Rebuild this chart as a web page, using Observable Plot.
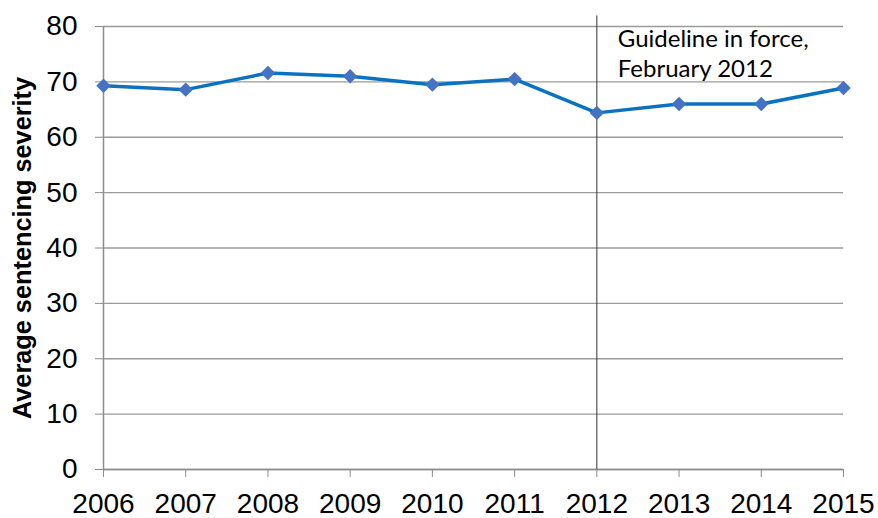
<!DOCTYPE html>
<html>
<head>
<meta charset="utf-8">
<script src="https://cdn.jsdelivr.net/npm/d3@7"></script>
<script src="https://cdn.jsdelivr.net/npm/@observablehq/plot@0.6"></script>
<style>
  html, body { margin: 0; padding: 0; background: #fff; }
  #chart svg { display: block; }
</style>
</head>
<body>
<div id="chart"></div>
<script>
const years = [2006, 2007, 2008, 2009, 2010, 2011, 2012, 2013, 2014, 2015];
const severity = [69.3, 68.6, 71.6, 71.0, 69.5, 70.5, 64.4, 66.0, 66.0, 68.9];
const yTicks = [0, 10, 20, 30, 40, 50, 60, 70, 80];
const guidelineYear = 2012;
const annotationLines = ["Guideline in force,", "February 2012"];
const yLabel = "Average sentencing severity";

const data = years.map((year, i) => ({year, value: severity[i]}));

const chart = Plot.plot({
  width: 878,
  height: 518,
  marginLeft: 103,
  marginRight: 35,
  marginTop: 26,
  marginBottom: 49,
  style: {fontFamily: "'Liberation Sans', Arial, sans-serif", background: "#fff", color: "#000"},
  x: {type: "linear", domain: [2006, 2015]},
  y: {domain: [0, 80]},
  marks: [
    Plot.gridY(yTicks, {stroke: "#9a9a9a", strokeOpacity: 1, strokeWidth: 1.3}),
    Plot.ruleX([2006], {y1: 0, y2: 80, stroke: "#8c8c8c", strokeWidth: 1.5}),
    Plot.ruleY([0], {stroke: "#8c8c8c", strokeWidth: 1.5}),
    Plot.axisY({ticks: yTicks, tickSize: 8, tickPadding: 18, stroke: "#8c8c8c", fill: "#000", fontSize: 28, label: null, tickFormat: d => d}),
    Plot.axisX({ticks: years, tickSize: 8, tickPadding: 16, stroke: "#8c8c8c", fill: "#000", fontSize: 28, label: null, tickFormat: d => String(d)}),
    Plot.ruleX([guidelineYear], {y1: 0, y2: 81.9, stroke: "#333", strokeWidth: 1}),
    Plot.text([annotationLines.join("\n")], {x: guidelineYear, y: 80, dx: 21, dy: 26, textAnchor: "start", lineAnchor: "middle", lineHeight: 1.25, fontSize: 24, fontFamily: "Lato, 'Open Sans', sans-serif", fill: "#000"}),
    Plot.line(data, {x: "year", y: "value", stroke: "#0b72c2", strokeWidth: 3.5}),
    Plot.dot(data, {x: "year", y: "value", symbol: "diamond2", r: 6.5, fill: "#4472c4", stroke: "none"}),
    Plot.text([yLabel], {frameAnchor: "left", dx: -81, dy: 0, rotate: -90, textAnchor: "middle", fontSize: 25.3, fontWeight: "bold", fill: "#000"})
  ]
});
document.getElementById("chart").appendChild(chart);
</script>
</body>
</html>
